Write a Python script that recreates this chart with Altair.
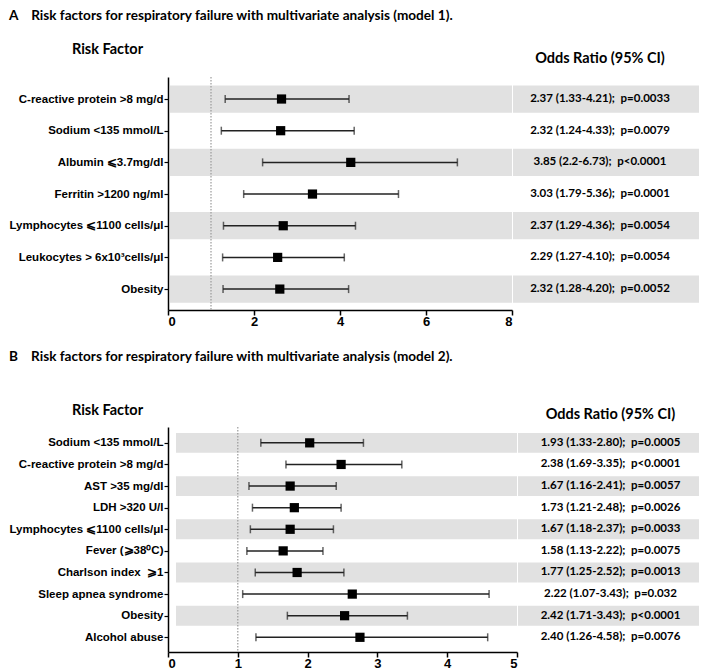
import json
import altair as alt
import pandas as pd

# ---------------- Panel A data ----------------
a_factors = ["C-reactive protein >8 mg/d", "Sodium <135 mmol/L", "Albumin \u2a7d3.7mg/dl",
             "Ferritin >1200 ng/ml", "Lymphocytes \u2a7d1100 cells/\u03bcl",
             "Leukocytes > 6x10\u00b3cells/\u03bcl", "Obesity"]
a_point = [2.64, 2.62, 4.25, 3.36, 2.68, 2.55, 2.60]
a_low = [1.33, 1.24, 2.20, 1.76, 1.29, 1.27, 1.28]
a_high = [4.21, 4.33, 6.73, 5.36, 4.36, 4.10, 4.20]
a_text = ["2.37 (1.33-4.21);\u00a0 p=0.0033", "2.32 (1.24-4.33);\u00a0 p=0.0079", "3.85 (2.2-6.73);\u00a0 p<0.0001",
          "3.03 (1.79-5.36);\u00a0 p=0.0001", "2.37 (1.29-4.36);\u00a0 p=0.0054", "2.29 (1.27-4.10);\u00a0 p=0.0054",
          "2.32 (1.28-4.20);\u00a0 p=0.0052"]
a_ticks = [0, 2, 4, 6, 8]

# ---------------- Panel B data ----------------
b_factors = ["Sodium <135 mmol/L", "C-reactive protein >8 mg/d", "AST >35 mg/dl", "LDH >320 U/l",
             "Lymphocytes \u2a7d1100 cells/\u03bcl", "Fever (\u2a7e38\u2070C)", "Charlson index \u00a0\u2a7e1",
             "Sleep apnea syndrome", "Obesity", "Alcohol abuse"]
b_point = [2.03, 2.48, 1.75, 1.81, 1.75, 1.65, 1.85, 2.64, 2.53, 2.75]
b_low = [1.33, 1.69, 1.16, 1.21, 1.18, 1.13, 1.25, 1.07, 1.71, 1.26]
b_high = [2.80, 3.35, 2.41, 2.48, 2.37, 2.22, 2.52, 4.60, 3.43, 4.58]
b_text = ["1.93 (1.33-2.80);\u00a0 p=0.0005", "2.38 (1.69-3.35);\u00a0 p<0.0001", "1.67 (1.16-2.41);\u00a0 p=0.0057",
          "1.73 (1.21-2.48);\u00a0 p=0.0026", "1.67 (1.18-2.37);\u00a0 p=0.0033", "1.58 (1.13-2.22);\u00a0 p=0.0075",
          "1.77 (1.25-2.52);\u00a0 p=0.0013", "2.22 (1.07-3.43);\u00a0 p=0.032", "2.42 (1.71-3.43);\u00a0 p<0.0001",
          "2.40 (1.26-4.58);\u00a0 p=0.0076"]
b_ticks = [0, 1, 2, 3, 4, 5]

GREY = "#e1e1e1"
LABEL_FONT = "Liberation Sans"
HEAD_FONT = "Lato"


def panel(title, factors, point, low, high, texts, ticks, xmax,
          plot_w, text_w, height, ypad_top, ypad_bot, half_band, band_x,
          head_x, head_y, or_offset, or_dx, text_dx, title_offset):
    n = len(factors)
    df = pd.DataFrame({
        "idx": list(range(n)), "factor": factors, "point": point, "low": low,
        "high": high, "label": texts,
    })
    df["b0"] = df["idx"] - half_band
    df["b1"] = df["idx"] + half_band
    shaded = df[df["idx"] % 2 == 0]
    yscale = alt.Scale(domain=[-ypad_top, n - 1 + ypad_bot], reverse=True, nice=False, zero=False)
    label_expr = json.dumps(factors) + "[datum.value]"
    yaxis = alt.Axis(title="Risk Factor", titleAngle=0, titleAlign="center",
                     titleBaseline="bottom", titleX=head_x, titleY=head_y,
                     titleFont=HEAD_FONT, titleFontSize=14.5, titleFontWeight="bold",
                     titleColor="black", values=list(range(n)), labelExpr=label_expr,
                     grid=False, labelFont=LABEL_FONT, labelFontWeight="bold",
                     labelFontSize=11.5, labelColor="black", labelLimit=300, labelPadding=1,
                     domainColor="black", domainWidth=1.5, tickColor="black",
                     tickWidth=1.2, tickSize=4)
    xscale = alt.Scale(domain=[0, xmax], nice=False, zero=True)
    xaxis = alt.Axis(values=ticks, grid=False, title=None, format="d",
                     labelFont=LABEL_FONT, labelFontWeight="bold", labelFontSize=13,
                     labelColor="black", domainColor="black", domainWidth=1.5,
                     tickColor="black", tickWidth=1.5, tickSize=5, labelPadding=0)
    yq = alt.Y("idx:Q", scale=yscale, axis=yaxis)

    base = alt.Chart(df)
    bands = alt.Chart(shaded).mark_rect(color=GREY).encode(
        y=alt.Y("b0:Q", scale=yscale, axis=yaxis), y2="b1:Q",
        x=alt.value(band_x), x2=alt.value("width"))
    ref = alt.Chart(pd.DataFrame({"ref": [1]})).mark_rule(
        color="#9a9a9a", strokeDash=[1.5, 1.5], strokeWidth=1.2).encode(
        x=alt.X("ref:Q", scale=xscale, axis=xaxis))
    bars = base.mark_rule(color="#222222", strokeWidth=1.5).encode(
        y=yq, x=alt.X("low:Q", scale=xscale, axis=xaxis), x2="high:Q")
    cap_l = base.mark_tick(color="#222222", size=8, thickness=1.5, orient="vertical").encode(
        y=yq, x=alt.X("low:Q", scale=xscale, axis=xaxis))
    cap_h = base.mark_tick(color="#222222", size=8, thickness=1.5, orient="vertical").encode(
        y=yq, x=alt.X("high:Q", scale=xscale, axis=xaxis))
    pts = base.mark_square(color="black", size=85, opacity=1).encode(
        y=yq, x=alt.X("point:Q", scale=xscale, axis=xaxis))
    forest = alt.layer(bands, ref, bars, cap_l, cap_h, pts).properties(
        width=plot_w, height=height)

    tbands = alt.Chart(shaded).mark_rect(color=GREY).encode(
        y=alt.Y("b0:Q", scale=yscale, axis=None), y2="b1:Q",
        x=alt.value(0), x2=alt.value("width"))
    ttext = base.mark_text(font=HEAD_FONT, fontWeight="bold", fontSize=11.5,
                           color="black", align="center", baseline="middle").encode(
        y=alt.Y("idx:Q", scale=yscale, axis=None), x=alt.value(text_w / 2 + text_dx),
        text="label:N")
    tcol = alt.layer(tbands, ttext).properties(
        width=text_w, height=height,
        title=alt.TitleParams("Odds Ratio (95% CI)", font=HEAD_FONT, fontSize=14.5,
                              fontWeight="bold", color="black", anchor="middle",
                              offset=or_offset, dx=or_dx))
    return alt.hconcat(forest, tcol, spacing=0).properties(
        title=alt.TitleParams(title, anchor="start", font=HEAD_FONT, fontSize=13.6,
                              fontWeight="bold", color="black", offset=title_offset))


pa = panel("A\u00a0\u00a0\u00a0 Risk factors for respiratory failure with multivariate analysis (model 1).",
           a_factors, a_point, a_low, a_high, a_text, a_ticks, 8,
           344, 186, 233, 0.695, 0.66, 0.43, 2, -61, -21, 11, -6, -6, 18)
pb = panel("B\u00a0\u00a0\u00a0 Risk factors for respiratory failure with multivariate analysis (model 2).",
           b_factors, b_point, b_low, b_high, b_text, b_ticks, 5,
           349, 181, 225, 0.734, 0.68, 0.46, 8, -61, -10, 5, 2, 2, 38)

chart = alt.vconcat(pa, pb, spacing=22).properties(
    padding={"left": 0, "top": 1, "right": 0, "bottom": 0}
).configure_view(stroke=None)

chart.save("out.html", embed_options={"renderer": "svg", "actions": False})
